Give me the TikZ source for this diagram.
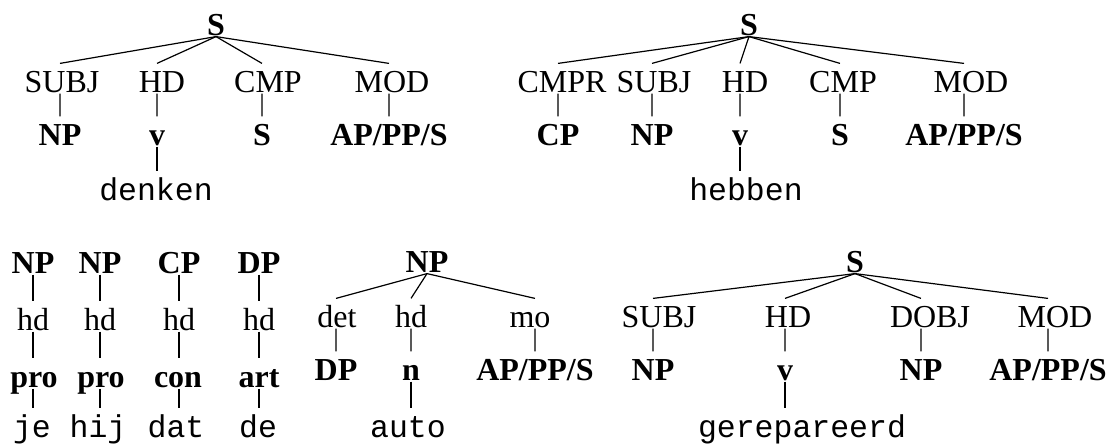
\documentclass[tikz,border=0pt]{standalone}
\usepackage{fontspec}
\setmainfont{Liberation Serif}
\setmonofont{Liberation Mono}
\usepackage{tikz}

\begin{document}
\begin{tikzpicture}[x=1pt,y=-1pt,line width=1.2pt,
  every node/.style={anchor=base,inner sep=0pt,text height=28pt,text depth=1pt,
    font=\fontsize{32}{38}\selectfont},
  cat/.style={font=\fontsize{32}{38}\selectfont\bfseries},
  wrd/.style={font=\fontsize{31.5}{38}\selectfont\ttfamily}]
  \useasboundingbox (0,0) rectangle (1116,447);
  % denken
  \node[cat] (s1) at (216,35) {S};
  \node (subj1) at (62,92) {SUBJ};
  \node (hd1) at (162,92) {HD};
  \node (cmp1) at (268,92) {CMP};
  \node (mod1) at (392,92) {MOD};
  \node[cat] (np1) at (60,145) {NP};
  \node[cat] (v1) at (157,145) {v};
  \node[cat] (s1b) at (262,145) {S};
  \node[cat] (ap1) at (389,145) {AP/PP/S};
  \node[wrd] (denken) at (156,200) {denken};
  \draw (s1.south)--(subj1.north-|np1.north) (subj1.south-|np1.north)--(np1.north);
  \draw (s1.south)--(hd1.north-|v1.north) (hd1.south-|v1.north)--(v1.north);
  \draw (s1.south)--(cmp1.north-|s1b.north) (cmp1.south-|s1b.north)--(s1b.north);
  \draw (s1.south)--(mod1.north-|ap1.north) (mod1.south-|ap1.north)--(ap1.north);
  \draw (v1.south)--(v1.south|-denken.north);
  % hebben
  \node[cat] (s2) at (749,35) {S};
  \node (cmpr2) at (562,92) {CMPR};
  \node (subj2) at (654,92) {SUBJ};
  \node (hd2) at (745,92) {HD};
  \node (cmp2) at (843,92) {CMP};
  \node (mod2) at (971,92) {MOD};
  \node[cat] (cp2) at (558,145) {CP};
  \node[cat] (np2) at (652,145) {NP};
  \node[cat] (v2) at (740,145) {v};
  \node[cat] (s2b) at (840,145) {S};
  \node[cat] (ap2) at (964,145) {AP/PP/S};
  \node[wrd] (hebben) at (746,200) {hebben};
  \draw (s2.south)--(cmpr2.north-|cp2.north) (cmpr2.south-|cp2.north)--(cp2.north);
  \draw (s2.south)--(subj2.north-|np2.north) (subj2.south-|np2.north)--(np2.north);
  \draw (s2.south)--(hd2.north-|v2.north) (hd2.south-|v2.north)--(v2.north);
  \draw (s2.south)--(cmp2.north-|s2b.north) (cmp2.south-|s2b.north)--(s2b.north);
  \draw (s2.south)--(mod2.north-|ap2.north) (mod2.south-|ap2.north)--(ap2.north);
  \draw (v2.south)--(v2.south|-hebben.north);
  % je hij dat de
  \node[cat] (np3a) at (33,273) {NP};
  \node (hd3a) at (33,330) {hd};
  \node[cat] (pro3a) at (34,387) {pro};
  \node[wrd] (je) at (32,437) {je};
  \node[cat] (np3b) at (100,273) {NP};
  \node (hd3b) at (100,330) {hd};
  \node[cat] (pro3b) at (101,387) {pro};
  \node[wrd] (hij) at (98,437) {hij};
  \node[cat] (cp3) at (179,273) {CP};
  \node (hd3c) at (179,330) {hd};
  \node[cat] (con3) at (178,387) {con};
  \node[wrd] (dat) at (176,437) {dat};
  \node[cat] (dp3) at (259,273) {DP};
  \node (hd3d) at (259,330) {hd};
  \node[cat] (art3) at (259,387) {art};
  \node[wrd] (de) at (258,437) {de};
  \draw (np3a.south)--(hd3a.north) (hd3a.south)--(hd3a.south|-pro3a.north) (pro3a.south-|hd3a.south)--(hd3a.south|-je.north);
  \draw (np3b.south)--(hd3b.north) (hd3b.south)--(hd3b.south|-pro3b.north) (pro3b.south-|hd3b.south)--(hd3b.south|-hij.north);
  \draw (cp3.south)--(hd3c.north) (hd3c.south)--(hd3c.south|-con3.north) (con3.south-|hd3c.south)--(hd3c.south|-dat.north);
  \draw (dp3.south)--(hd3d.north) (hd3d.south)--(hd3d.south|-art3.north) (art3.south-|hd3d.south)--(hd3d.south|-de.north);
  % auto
  \node[cat] (np4) at (427,272) {NP};
  \node (det4) at (337,327) {det};
  \node (hd4) at (411,327) {hd};
  \node (mo4) at (530,327) {mo};
  \node[cat] (dp4) at (336,380) {DP};
  \node[cat] (n4) at (411,380) {n};
  \node[cat] (ap4) at (535,380) {AP/PP/S};
  \node[wrd] (auto) at (408,437) {auto};
  \draw (np4.south)--(det4.north-|dp4.north) (det4.south-|dp4.north)--(dp4.north);
  \draw (np4.south)--(hd4.north-|n4.north) (hd4.south-|n4.north)--(n4.north);
  \draw (np4.south)--(mo4.north-|ap4.north) (mo4.south-|ap4.north)--(ap4.north);
  \draw (n4.south)--(n4.south|-auto.north);
  % gerepareerd
  \node[cat] (s5) at (855,272) {S};
  \node (subj5) at (659,327) {SUBJ};
  \node (hd5) at (788,327) {HD};
  \node (dobj5) at (930,327) {DOBJ};
  \node (mod5) at (1055,327) {MOD};
  \node[cat] (np5a) at (653,380) {NP};
  \node[cat] (v5) at (785,380) {v};
  \node[cat] (np5b) at (921,380) {NP};
  \node[cat] (ap5) at (1048,380) {AP/PP/S};
  \node[wrd] (ger) at (802,437) {gerepareerd};
  \draw (s5.south)--(subj5.north-|np5a.north) (subj5.south-|np5a.north)--(np5a.north);
  \draw (s5.south)--(hd5.north-|v5.north) (hd5.south-|v5.north)--(v5.north);
  \draw (s5.south)--(dobj5.north-|np5b.north) (dobj5.south-|np5b.north)--(np5b.north);
  \draw (s5.south)--(mod5.north-|ap5.north) (mod5.south-|ap5.north)--(ap5.north);
  \draw (v5.south)--(v5.south|-ger.north);
\end{tikzpicture}
\end{document}
